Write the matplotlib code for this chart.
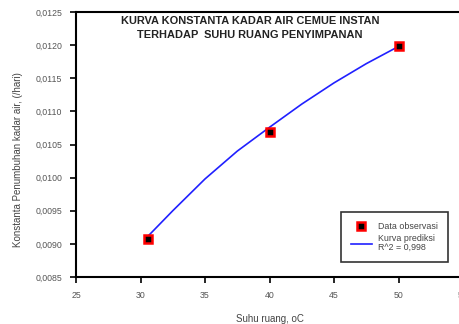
import matplotlib.pyplot as plt
from matplotlib.ticker import FuncFormatter

plt.rcParams['font.family'] = ['Liberation Sans', 'DejaVu Sans']

# observed data
suhu = [30.6, 40, 50]
konstanta = [0.00908, 0.01069, 0.01199]

# predicted curve
suhu_pred = [30.6, 32.5, 35, 37.5, 40, 42.5, 45, 47.5, 50]
konstanta_pred = [0.00912, 0.00950, 0.00998, 0.01040, 0.01076, 0.01111, 0.01143, 0.01172, 0.01198]

xticks = [25, 30, 35, 40, 45, 50, 55]
yticks = [0.0085, 0.0090, 0.0095, 0.0100, 0.0105, 0.0110, 0.0115, 0.0120, 0.0125]

fig = plt.figure(figsize=(4.59, 3.24), dpi=100)
ax = fig.add_axes([76/459, 1 - 277/324, (463 - 76)/459, (277 - 12)/324])

ax.plot(suhu_pred, konstanta_pred, color='#2020ff', lw=1.2,
        label='Kurva prediksi\nR^2 = 0,998', zorder=2)
ax.plot(suhu, konstanta, ls='none', marker='s', ms=5.5, mfc='black', mec='red',
        mew=1.8, label='Data observasi', zorder=3)

ax.set_xlim(25, 55)
ax.set_ylim(0.0085, 0.0125)
ax.set_xticks(xticks)
ax.set_yticks(yticks)
ax.yaxis.set_major_formatter(FuncFormatter(lambda v, p: f"{v:.4f}".replace('.', ',')))
ax.tick_params(direction='out', length=4, width=1.2, labelsize=6.3, labelcolor='#555555', pad=6)
for s in ax.spines.values():
    s.set_linewidth(1.5)

ax.set_xlabel('Suhu ruang, oC', fontsize=7, color='#444444', labelpad=10)
fig.text(18/459, 1 - 160/324, 'Konstanta Penumbuhan kadar air, (/hari)',
         rotation=90, ha='center', va='center', fontsize=7, color='#444444')

ax.text(0.45, 0.985, 'KURVA KONSTANTA KADAR AIR CEMUE INSTAN\nTERHADAP  SUHU RUANG PENYIMPANAN',
        transform=ax.transAxes, ha='center', va='top', fontsize=7.9,
        fontweight='bold', color='#222222', linespacing=1.45)

handles, labels = ax.get_legend_handles_labels()
leg = ax.legend(handles[::-1], labels[::-1], loc='lower right',
                fontsize=6.4, frameon=True, fancybox=False, edgecolor='black',
                handlelength=2.4, borderpad=1.1, labelspacing=0.35, handletextpad=0.7,
                borderaxespad=0)
leg.get_frame().set_linewidth(1.2)
for t in leg.get_texts():
    t.set_color('#444444')
    t.set_linespacing(1.0)
leg.set_bbox_to_anchor((448/459, 1 - 262/324), transform=fig.transFigure)

fig.savefig('out.png', dpi=100)
